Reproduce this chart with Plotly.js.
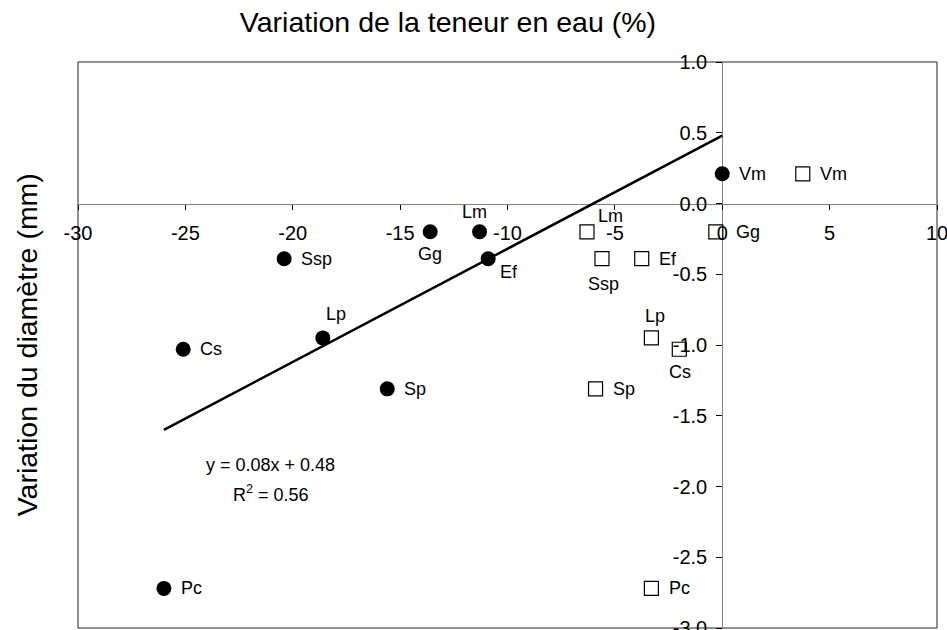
<!DOCTYPE html>
<html>
<head>
<meta charset="utf-8">
<script src="https://cdn.plot.ly/plotly-3.0.1.min.js"></script>
<style>html,body{margin:0;padding:0;background:#fff;}#chart{width:947px;height:630px;}</style>
</head>
<body>
<div id="chart"></div>
<script>
// ---- data ----
const categories = ['Vm', 'Gg', 'Lm', 'Ssp', 'Ef', 'Lp', 'Cs', 'Sp', 'Pc'];
const xFilled = [0.0, -13.6, -11.3, -20.4, -10.9, -18.6, -25.1, -15.6, -26.0];
const yFilled = [0.21, -0.20, -0.20, -0.39, -0.39, -0.95, -1.03, -1.31, -2.72];
const xOpen = [3.75, -0.3, -6.3, -5.6, -3.75, -3.3, -2.0, -5.9, -3.3];
const yOpen = [0.21, -0.20, -0.20, -0.39, -0.39, -0.95, -1.03, -1.31, -2.72];
const regSlope = 0.08;
const regIntercept = 0.48;
const regR2 = 0.56;
const xTickVals = [-30, -25, -20, -15, -10, -5, 0, 5, 10];
const xTickText = ['-30', '-25', '-20', '-15', '-10', '-5', '0', '5', '10'];
const yTickVals = [1.0, 0.5, 0.0, -0.5, -1.0, -1.5, -2.0, -2.5, -3.0];
const yTickText = ['1.0', '0.5', '0.0', '-0.5', '-1.0', '-1.5', '-2.0', '-2.5', '-3.0'];

// ---- label placement (style only): [pixel dx, pixel dy, xanchor] ----
const filledLabelPlace = [
  [15, 0, 'left'], [0, -22, 'center'], [-5, 20, 'center'], [15, 0, 'left'], [10, -13, 'left'],
  [13, 24, 'center'], [15, 0, 'left'], [15, 0, 'left'], [15, 0, 'left']
];
const openLabelPlace = [
  [15, 0, 'left'], [18, 0, 'left'], [24, 16, 'center'], [2, -25, 'center'], [15, 0, 'left'],
  [4, 22, 'center'], [1, -23, 'center'], [15, 0, 'left'], [16, 0, 'left']
];

const FONT = 'Liberation Sans, Arial, Helvetica, sans-serif';

const regX = [Math.min(...xFilled), Math.max(...xFilled)];
const regY = regX.map(v => regSlope * v + regIntercept);

const traces = [
  {
    x: regX, y: regY, type: 'scatter', mode: 'lines',
    line: {color: '#000', width: 2.5}, hoverinfo: 'skip'
  },
  {
    x: xFilled, y: yFilled, type: 'scatter', mode: 'markers',
    marker: {symbol: 'circle', size: 15, color: '#000'}
  },
  {
    x: xOpen, y: yOpen, type: 'scatter', mode: 'markers',
    marker: {symbol: 'square-open', size: 14, color: '#000', line: {width: 1.2, color: '#000'}}
  }
];

function labelAnnotations(xs, ys, place) {
  return categories.map((c, i) => ({
    text: c, xref: 'x', yref: 'y', x: xs[i], y: ys[i],
    xanchor: place[i][2], yanchor: 'middle',
    xshift: place[i][0], yshift: place[i][1],
    showarrow: false, font: {family: FONT, size: 18, color: '#000'}
  }));
}

const layout = {
  width: 947, height: 630,
  margin: {l: 78, r: 10, t: 62, b: 2},
  paper_bgcolor: '#fff', plot_bgcolor: '#fff',
  showlegend: false,
  font: {family: FONT, color: '#000'},
  title: {
    text: 'Variation de la teneur en eau (%)',
    font: {family: FONT, size: 28.5, color: '#000'},
    x: 0.473, xref: 'container', xanchor: 'center',
    y: 0.965, yref: 'container', yanchor: 'middle'
  },
  xaxis: {
    range: [-30, 10], anchor: 'free', position: 0.75,
    showline: true, linecolor: '#808080', linewidth: 1,
    zeroline: false, showgrid: false,
    ticks: 'outside', ticklen: 5, tickcolor: '#000', tickwidth: 1,
    tickmode: 'array', tickvals: xTickVals, ticktext: xTickText,
    tickfont: {family: FONT, size: 20, color: '#000'},
    ticklabelstandoff: 6, ticklabeloverflow: 'allow',
    layer: 'below traces'
  },
  yaxis: {
    range: [-3, 1], anchor: 'free', position: 0.75, side: 'left',
    showline: true, linecolor: '#808080', linewidth: 1,
    zeroline: false, showgrid: false,
    ticks: 'outside', ticklen: 6, tickcolor: '#000', tickwidth: 1,
    tickmode: 'array', tickvals: yTickVals, ticktext: yTickText,
    tickfont: {family: FONT, size: 20, color: '#000'},
    ticklabelstandoff: 5, ticklabeloverflow: 'allow',
    layer: 'below traces'
  },
  shapes: [
    {type: 'rect', xref: 'paper', yref: 'paper', x0: 0, x1: 1, y0: 0, y1: 1,
     line: {color: '#222', width: 1}, layer: 'below'}
  ],
  annotations: [
    {text: 'Variation du diamètre (mm)', xref: 'paper', yref: 'paper',
     x: -0.059, y: 0.5, xanchor: 'center', yanchor: 'middle', textangle: -90,
     showarrow: false, font: {family: FONT, size: 28.5, color: '#000'}},
    {text: 'y = ' + regSlope.toFixed(2) + 'x + ' + regIntercept.toFixed(2), xref: 'x', yref: 'y',
     x: -21.05, y: -1.85, xanchor: 'center', yanchor: 'middle', showarrow: false,
     font: {family: FONT, size: 18, color: '#000'}},
    {text: 'R<sup>2</sup> = ' + regR2.toFixed(2), xref: 'x', yref: 'y',
     x: -21.0, y: -2.05, xanchor: 'center', yanchor: 'middle', showarrow: false,
     font: {family: FONT, size: 18, color: '#000'}}
  ].concat(labelAnnotations(xFilled, yFilled, filledLabelPlace))
   .concat(labelAnnotations(xOpen, yOpen, openLabelPlace))
};

Plotly.newPlot('chart', traces, layout, {displayModeBar: false, staticPlot: true});
</script>
</body>
</html>
